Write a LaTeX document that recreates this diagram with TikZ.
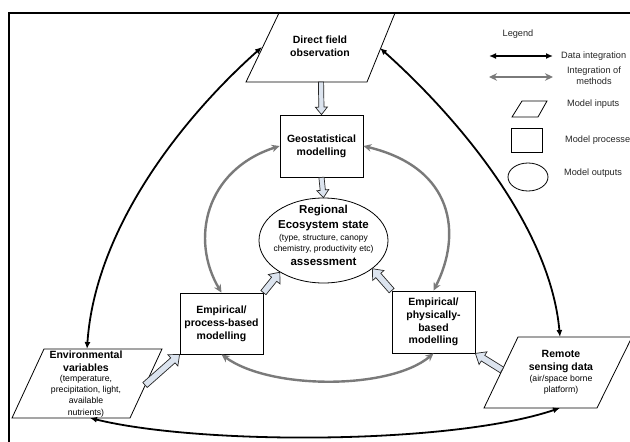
\documentclass[tikz,border=0pt]{standalone}
\usepackage{fontspec}
\setmainfont{Liberation Sans}
\usetikzlibrary{calc,shapes.geometric,arrows.meta}
\definecolor{hollowfill}{HTML}{DCE4EF}
\definecolor{intgray}{HTML}{7A7A7A}
\tikzset{
  frame/.style={line width=2.4pt, line cap=rect},
  box/.style={draw, line width=0.8pt, minimum width=83pt, minimum height=62pt, inner sep=0pt},
  para/.style={draw, line width=0.8pt, line join=miter},
  title/.style={font=\bfseries\fontsize{10.5}{13}\selectfont, align=center, inner sep=0pt},
  bigtitle/.style={font=\bfseries\fontsize{11.5}{15}\selectfont, align=center, inner sep=0pt},
  small/.style={font=\fontsize{8.7}{11.3}\selectfont, align=center, inner sep=0pt},
  legtext/.style={font=\fontsize{9.2}{11}\selectfont, text=black!85, align=center, inner sep=0pt},
  dataint/.style={line width=1.8pt, {Latex[length=7pt,width=6pt]}-{Latex[length=7pt,width=6pt]}},
  methint/.style={draw=intgray, line width=2.4pt, {Stealth[length=8pt,width=7.5pt]}-{Stealth[length=8pt,width=7.5pt]}},
  hollow/.style={draw=black!85, line width=0.7pt, fill=hollowfill, line join=miter}
}
% hollow block arrow: #1 start, #2 tip, #3 shaft half width, #4 head half width, #5 head length
\newcommand{\hollowarrow}[5]{%
  \coordinate (hacut) at ($(#2)!#5!(#1)$);
  \draw[hollow] ($(#1)!#3!90:(#2)$) -- ($(hacut)!#3!90:(#2)$) -- ($(hacut)!#4!90:(#2)$) -- (#2)
    -- ($(hacut)!#4!-90:(#2)$) -- ($(hacut)!#3!-90:(#2)$) -- ($(#1)!#3!-90:(#2)$) -- cycle;
}
\begin{document}
\begin{tikzpicture}[x=1pt,y=-1pt]
\useasboundingbox (0,0) rectangle (630,442);
\fill[white] (0,0) rectangle (630,442);
\draw[frame] (632,13) -- (9,13) -- (9,444);

% ---- model inputs (parallelograms)
\coordinate (dfoTL) at (279,13);
\coordinate (dfoTR) at (395,13);
\coordinate (dfoBR) at (367,82);
\coordinate (dfoBL) at (246,82);
\draw[para] (dfoTL) -- (dfoTR) -- (dfoBR) -- (dfoBL) -- cycle;
\node[title] (dfo) at (320,46.5) {Direct field\\observation};

\coordinate (envTL) at (44,349);
\coordinate (envTR) at (162,349);
\coordinate (envBR) at (130,418);
\coordinate (envBL) at (12,418);
\draw[para] (envTL) -- (envTR) -- (envBR) -- (envBL) -- cycle;
\node[title] (envt) at (86,361.5) {Environmental\\variables};
\node[small] (envs) at (86,396) {(temperature,\\precipitation, light,\\available\\nutrients)};

\coordinate (rsdTL) at (518,337);
\coordinate (rsdTR) at (632,337);
\coordinate (rsdBR) at (597,408);
\coordinate (rsdBL) at (484,408);
\draw[para] (rsdTL) -- (rsdTR) -- (rsdBR) -- (rsdBL) -- cycle;
\node[title] (rsdt) at (561,361) {Remote\\sensing data};
\node[small] (rsds) at (561,384.5) {(air/space borne\\platform)};

% ---- model processes
\node[box, title] (geo) at (321.5,146) {Geostatistical\\modelling};
\node[box, title, minimum height=61pt] (epb) at (221.5,323.5) {Empirical/\\process-based\\modelling};
\node[box, title, font=\bfseries\fontsize{10.5}{12.7}\selectfont] (ephb) at (433.5,322) {Empirical/\\physically-\\based\\modelling};

% ---- model output
\node[draw, ellipse, line width=0.8pt, minimum width=129pt, minimum height=85pt, inner sep=0pt] (rees) at (323.5,240.5) {};
\node[bigtitle] (reest) at (323.5,218.5) {Regional\\Ecosystem state};
\node[small, font=\fontsize{8.5}{11}\selectfont] (reess) at (323.5,243.5) {(type, structure, canopy\\chemistry, productivity etc)};
\node[bigtitle] (reesa) at (323.5,262) {assessment};

% ---- connector end points on the parallelograms
\coordinate (dfoS) at (321,82);
\coordinate (dfoW) at (262,47);
\coordinate (dfoE) at (380,48);
\coordinate (envN) at (87,349);
\coordinate (envS) at (90,418);
\coordinate (envE) at (145,385);
\coordinate (rsdN) at (560,337);
\coordinate (rsdS) at (560,408);
\coordinate (rsdW) at (502,370);

% ---- data integration (black)
\draw[dataint] (dfoW) .. controls (180,120) and (95,230) .. (envN);
\draw[dataint] (dfoE) .. controls (455,115) and (550,225) .. (rsdN);
\draw[dataint] (envS) .. controls (200,445) and (450,445) .. (rsdS);

% ---- integration of methods (gray)
\draw[methint] (geo.west) .. controls (205,170) and (190,240) .. (epb.north);
\draw[methint] (geo.east) .. controls (455,168) and (462,235) .. (ephb.north);
\draw[methint] (epb.south) .. controls (270,390) and (390,390) .. (ephb.south);

% ---- flows (hollow block arrows)
\hollowarrow{dfoS}{geo.north}{2.6pt}{6pt}{7.5pt}
\hollowarrow{geo.south}{rees.north}{2.6pt}{6pt}{7.5pt}
\hollowarrow{epb.north east}{rees.216}{3.3pt}{7.5pt}{9pt}
\hollowarrow{ephb.north west}{rees.-30}{3.3pt}{7.5pt}{9pt}
\hollowarrow{envE}{epb.south west}{3.3pt}{7.5pt}{9pt}
\hollowarrow{rsdW}{ephb.south east}{3.3pt}{7.5pt}{9pt}

% ---- legend
\node[legtext] (leg) at (518,34) {Legend};
\coordinate (l1a) at (489,56);
\coordinate (l1b) at (553,56);
\draw[dataint] (l1a) -- (l1b);
\node[legtext, anchor=west] (ldi) at (561,56) {Data integration};
\coordinate (l2a) at (489,77);
\coordinate (l2b) at (553,77);
\draw[methint] (l2a) -- (l2b);
\node[legtext] (lim) at (594,76) {Integration of\\methods};
\draw[para] (522,101) -- (547,101) -- (538,117) -- (512,117) -- cycle;
\node[legtext, anchor=west] (lmi) at (567,104) {Model inputs};
\draw[para] (511,128) rectangle (542,152);
\node[legtext, anchor=west] (lmp) at (565,140) {Model processe};
\draw[para] (528,177) ellipse [x radius=20pt, y radius=14pt];
\node[legtext, anchor=west] (lmo) at (564,173) {Model outputs};
\end{tikzpicture}
\end{document}
